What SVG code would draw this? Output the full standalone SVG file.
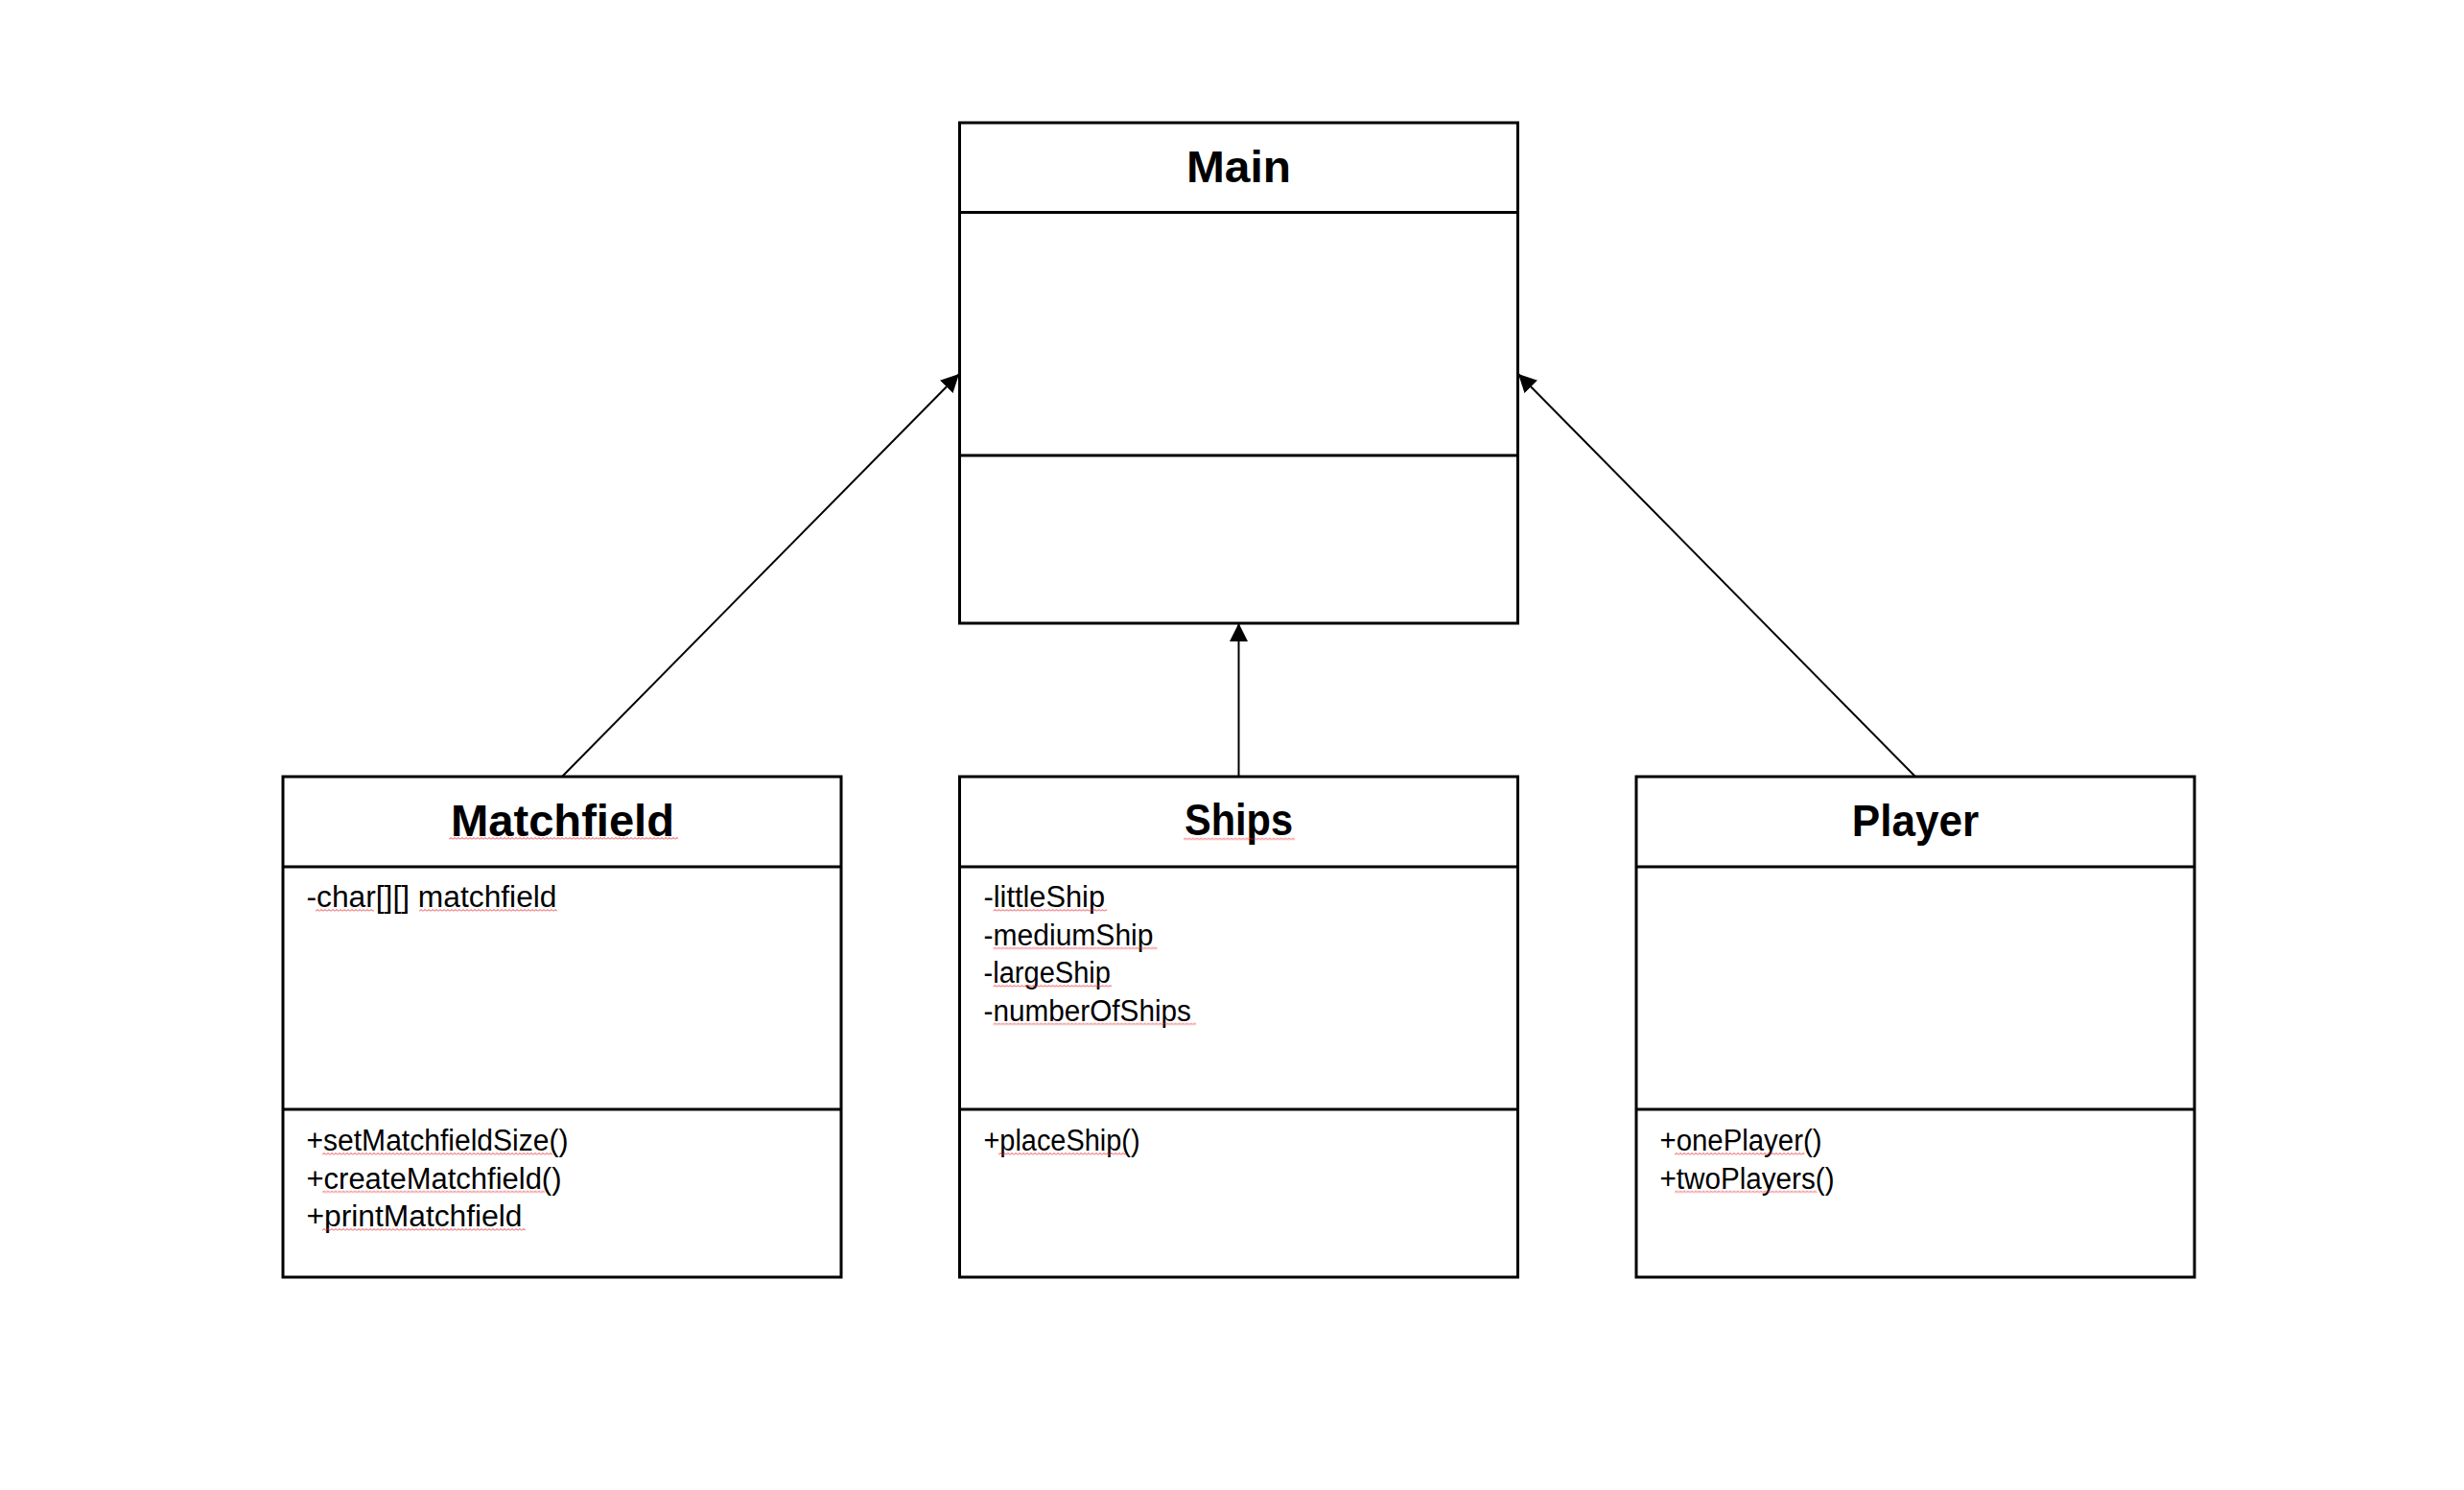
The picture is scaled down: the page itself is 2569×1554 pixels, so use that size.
<svg xmlns="http://www.w3.org/2000/svg" width="2569" height="1554" viewBox="0 0 2569 1554">
<style>
.box{fill:#ffffff;stroke:#000000;stroke-width:3}
.sep{stroke:#000000;stroke-width:3}
.title{font-family:"Liberation Sans",Arial,sans-serif;font-weight:bold;font-size:46px;fill:#000;text-anchor:middle}
.txt{font-family:"Liberation Sans",Arial,sans-serif;font-size:31px;fill:#000}
.conn{stroke:#000000;stroke-width:2;fill:none;marker-end:url(#arrow)}
.sq{fill:url(#squig)}
</style>
<defs>
<marker id="arrow" markerUnits="userSpaceOnUse" markerWidth="20" markerHeight="19" refX="19" refY="9.5" orient="auto" viewBox="0 0 20 19">
<path d="M0,0 L19,9.5 L0,19 Z" fill="#000"/>
</marker>
<pattern id="squig" patternUnits="userSpaceOnUse" width="4" height="3">
<path d="M0,2.5 L2,0.5 L4,2.5" fill="none" stroke="#e6262b" stroke-width="0.9"/>
</pattern>
</defs>
<rect width="2569" height="1554" fill="#ffffff"/>

<g id="connectors">
<line class="conn" x1="586" y1="810" x2="1000" y2="390"/>
<line class="conn" x1="1291.5" y1="810" x2="1291.5" y2="650"/>
<line class="conn" x1="1997" y1="810" x2="1583" y2="390"/>
</g>

<g id="main">
<rect class="box" x="1000.5" y="128" width="582" height="522"/>
<line class="sep" x1="1000.5" y1="221.5" x2="1582.5" y2="221.5"/>
<line class="sep" x1="1000.5" y1="475" x2="1582.5" y2="475"/>
<text class="title" x="1291.5" y="190" textLength="109" lengthAdjust="spacingAndGlyphs">Main</text>
</g>

<g id="matchfield">
<rect class="box" x="295" y="810" width="582" height="522"/>
<line class="sep" x1="295" y1="904" x2="877" y2="904"/>
<line class="sep" x1="295" y1="1157" x2="877" y2="1157"/>
<text class="title" x="586.5" y="872" textLength="233" lengthAdjust="spacingAndGlyphs">Matchfield</text>
<text class="txt" x="319.5" y="946" textLength="261" lengthAdjust="spacingAndGlyphs">-char[][] matchfield</text>
<text class="txt" x="319.5" y="1200" textLength="273" lengthAdjust="spacingAndGlyphs">+setMatchfieldSize()</text>
<text class="txt" x="319.5" y="1239.5" textLength="266" lengthAdjust="spacingAndGlyphs">+createMatchfield()</text>
<text class="txt" x="319.5" y="1279" textLength="225" lengthAdjust="spacingAndGlyphs">+printMatchfield</text>
<rect class="sq" transform="translate(468,873)" width="239" height="3"/>
<rect class="sq" transform="translate(329,948)" width="61" height="3"/>
<rect class="sq" transform="translate(437,948)" width="144" height="3"/>
<rect class="sq" transform="translate(336,1202)" width="240" height="3"/>
<rect class="sq" transform="translate(336,1241.5)" width="232" height="3"/>
<rect class="sq" transform="translate(336,1281)" width="212" height="3"/>
</g>

<g id="ships">
<rect class="box" x="1000.5" y="810" width="582" height="522"/>
<line class="sep" x1="1000.5" y1="904" x2="1582.5" y2="904"/>
<line class="sep" x1="1000.5" y1="1157" x2="1582.5" y2="1157"/>
<text class="title" x="1291.5" y="871" textLength="113" lengthAdjust="spacingAndGlyphs">Ships</text>
<text class="txt" x="1025.5" y="946" textLength="126.5" lengthAdjust="spacingAndGlyphs">-littleShip</text>
<text class="txt" x="1025.5" y="985.5" textLength="177" lengthAdjust="spacingAndGlyphs">-mediumShip</text>
<text class="txt" x="1025.5" y="1025" textLength="132.5" lengthAdjust="spacingAndGlyphs">-largeShip</text>
<text class="txt" x="1025.5" y="1064.5" textLength="216.5" lengthAdjust="spacingAndGlyphs">-numberOfShips</text>
<text class="txt" x="1025.5" y="1200" textLength="163" lengthAdjust="spacingAndGlyphs">+placeShip()</text>
<rect class="sq" transform="translate(1234,873.5)" width="116" height="3"/>
<rect class="sq" transform="translate(1035.5,948)" width="118.5" height="3"/>
<rect class="sq" transform="translate(1035.5,987.5)" width="171" height="3"/>
<rect class="sq" transform="translate(1035.5,1027)" width="123.5" height="3"/>
<rect class="sq" transform="translate(1035.5,1066.5)" width="211.5" height="3"/>
<rect class="sq" transform="translate(1041,1202)" width="133" height="3"/>
</g>

<g id="player">
<rect class="box" x="1706" y="810" width="582" height="522"/>
<line class="sep" x1="1706" y1="904" x2="2288" y2="904"/>
<line class="sep" x1="1706" y1="1157" x2="2288" y2="1157"/>
<text class="title" x="1997" y="871.5" textLength="132.5" lengthAdjust="spacingAndGlyphs">Player</text>
<text class="txt" x="1730.5" y="1200" textLength="169" lengthAdjust="spacingAndGlyphs">+onePlayer()</text>
<text class="txt" x="1730.5" y="1239.5" textLength="182" lengthAdjust="spacingAndGlyphs">+twoPlayers()</text>
<rect class="sq" transform="translate(1746,1202)" width="135.5" height="3"/>
<rect class="sq" transform="translate(1746,1241.5)" width="148.5" height="3"/>
</g>
</svg>
